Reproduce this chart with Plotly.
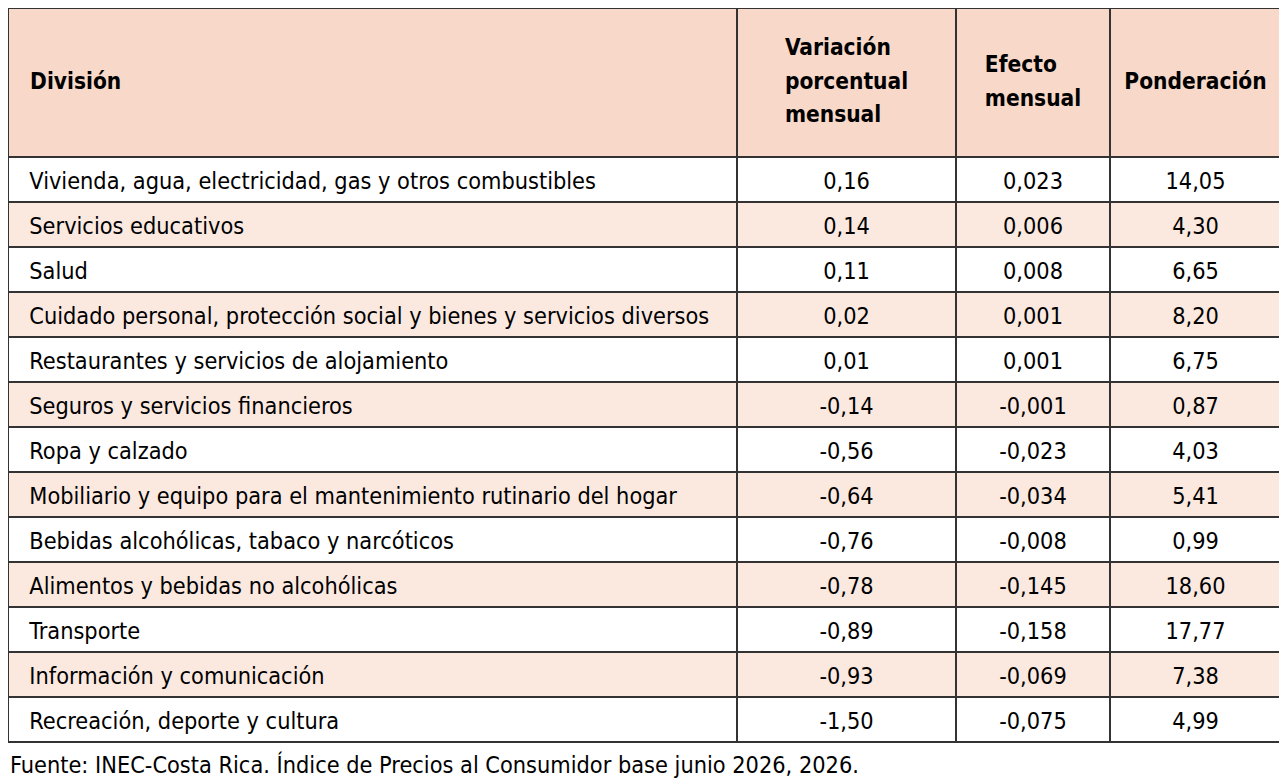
import plotly.graph_objects as go

# the page body adds an 8px margin, so the figure is drawn 8px in from the window corner
W, H = 1279, 774

divisiones = [
    "Vivienda, agua, electricidad, gas y otros combustibles",
    "Servicios educativos",
    "Salud",
    "Cuidado personal, protección social y bienes y servicios diversos",
    "Restaurantes y servicios de alojamiento",
    "Seguros y servicios financieros",
    "Ropa y calzado",
    "Mobiliario y equipo para el mantenimiento rutinario del hogar",
    "Bebidas alcohólicas, tabaco y narcóticos",
    "Alimentos y bebidas no alcohólicas",
    "Transporte",
    "Información y comunicación",
    "Recreación, deporte y cultura",
]
variacion = [0.16, 0.14, 0.11, 0.02, 0.01, -0.14, -0.56, -0.64, -0.76, -0.78, -0.89, -0.93, -1.50]
efecto = [0.023, 0.006, 0.008, 0.001, 0.001, -0.001, -0.023, -0.034, -0.008, -0.145, -0.158, -0.069, -0.075]
ponderacion = [14.05, 4.30, 6.65, 8.20, 6.75, 0.87, 4.03, 5.41, 0.99, 18.60, 17.77, 7.38, 4.99]

encabezados = [["División"], ["Variación", "porcentual", "mensual"], ["Efecto", "mensual"], ["Ponderación"]]
fuente = "Fuente: INEC-Costa Rica. Índice de Precios al Consumidor base junio 2026, 2026."

FONT = "DejaVu Sans Condensed, Liberation Sans Narrow, sans-serif"
NB = "\u00a0"


def coma(v, dec):
    return f"{v:.{dec}f}".replace(".", ",")


def cabecera(lineas, inicio, sangria=""):
    # half-size line steps so the header text can sit centred in the tall cell
    partes = [f'<span style="font-size:5.5px">{NB}</span>'] + [""] * (inicio - 1)
    for i, t in enumerate(lineas):
        if i:
            partes.append("")
        partes.append(f'<span style="font-size:22.5px">{sangria}{t}</span>')
    return "<br>".join(partes)


inicios = [4, 2, 3, 4]
textos_cab = [cabecera(l, k, NB * 2 if j == 0 else "") for j, (l, k) in enumerate(zip(encabezados, inicios))]

fill_rows = ["white" if i % 2 == 0 else "#FBE9E0" for i in range(len(divisiones))]
anchos = [729, 219, 154, 171]
alineacion = ["left", "center", "center", "center"]
dom_x = [0, sum(anchos) / W]

# base table: fills, borders and header text
fig = go.Figure(go.Table(
    domain=dict(x=dom_x, y=[0, 1]),
    columnwidth=anchos,
    header=dict(
        values=textos_cab,
        fill_color="#F8D8C8",
        line=dict(color="#333333", width=1.5),
        align=alineacion,
        font=dict(family=FONT, size=13, color="black", weight="bold"),
        height=149,
    ),
    cells=dict(
        values=[[""] * len(divisiones)] * 4,
        fill_color=[fill_rows] * 4,
        line=dict(color="#333333", width=1.5),
        height=45,
    ),
))

# text layer for the body cells, nudged down so the text sits centred in each row
fig.add_trace(go.Table(
    domain=dict(x=dom_x, y=[0, 1 - 6.5 / H]),
    columnwidth=anchos,
    header=dict(
        values=[""] * 4,
        fill_color="rgba(0,0,0,0)",
        line=dict(color="rgba(0,0,0,0)", width=0),
        height=149,
    ),
    cells=dict(
        values=[
            [NB * 2 + d for d in divisiones],
            [coma(v, 2) for v in variacion],
            [coma(v, 3) for v in efecto],
            [coma(v, 2) for v in ponderacion],
        ],
        fill_color="rgba(0,0,0,0)",
        line=dict(color="rgba(0,0,0,0)", width=0),
        align=alineacion,
        font=dict(family=FONT, size=23.3, color="black"),
        height=45,
    ),
))

fig.add_annotation(
    text=fuente, xref="paper", yref="paper", x=0, y=1 - 756 / H,
    xanchor="left", yanchor="middle", showarrow=False,
    font=dict(family=FONT, size=23.3, color="black"),
)

fig.update_layout(
    width=W, height=H,
    margin=dict(l=0, r=0, t=0, b=0),
    paper_bgcolor="white",
)

fig.write_html("out.html")
